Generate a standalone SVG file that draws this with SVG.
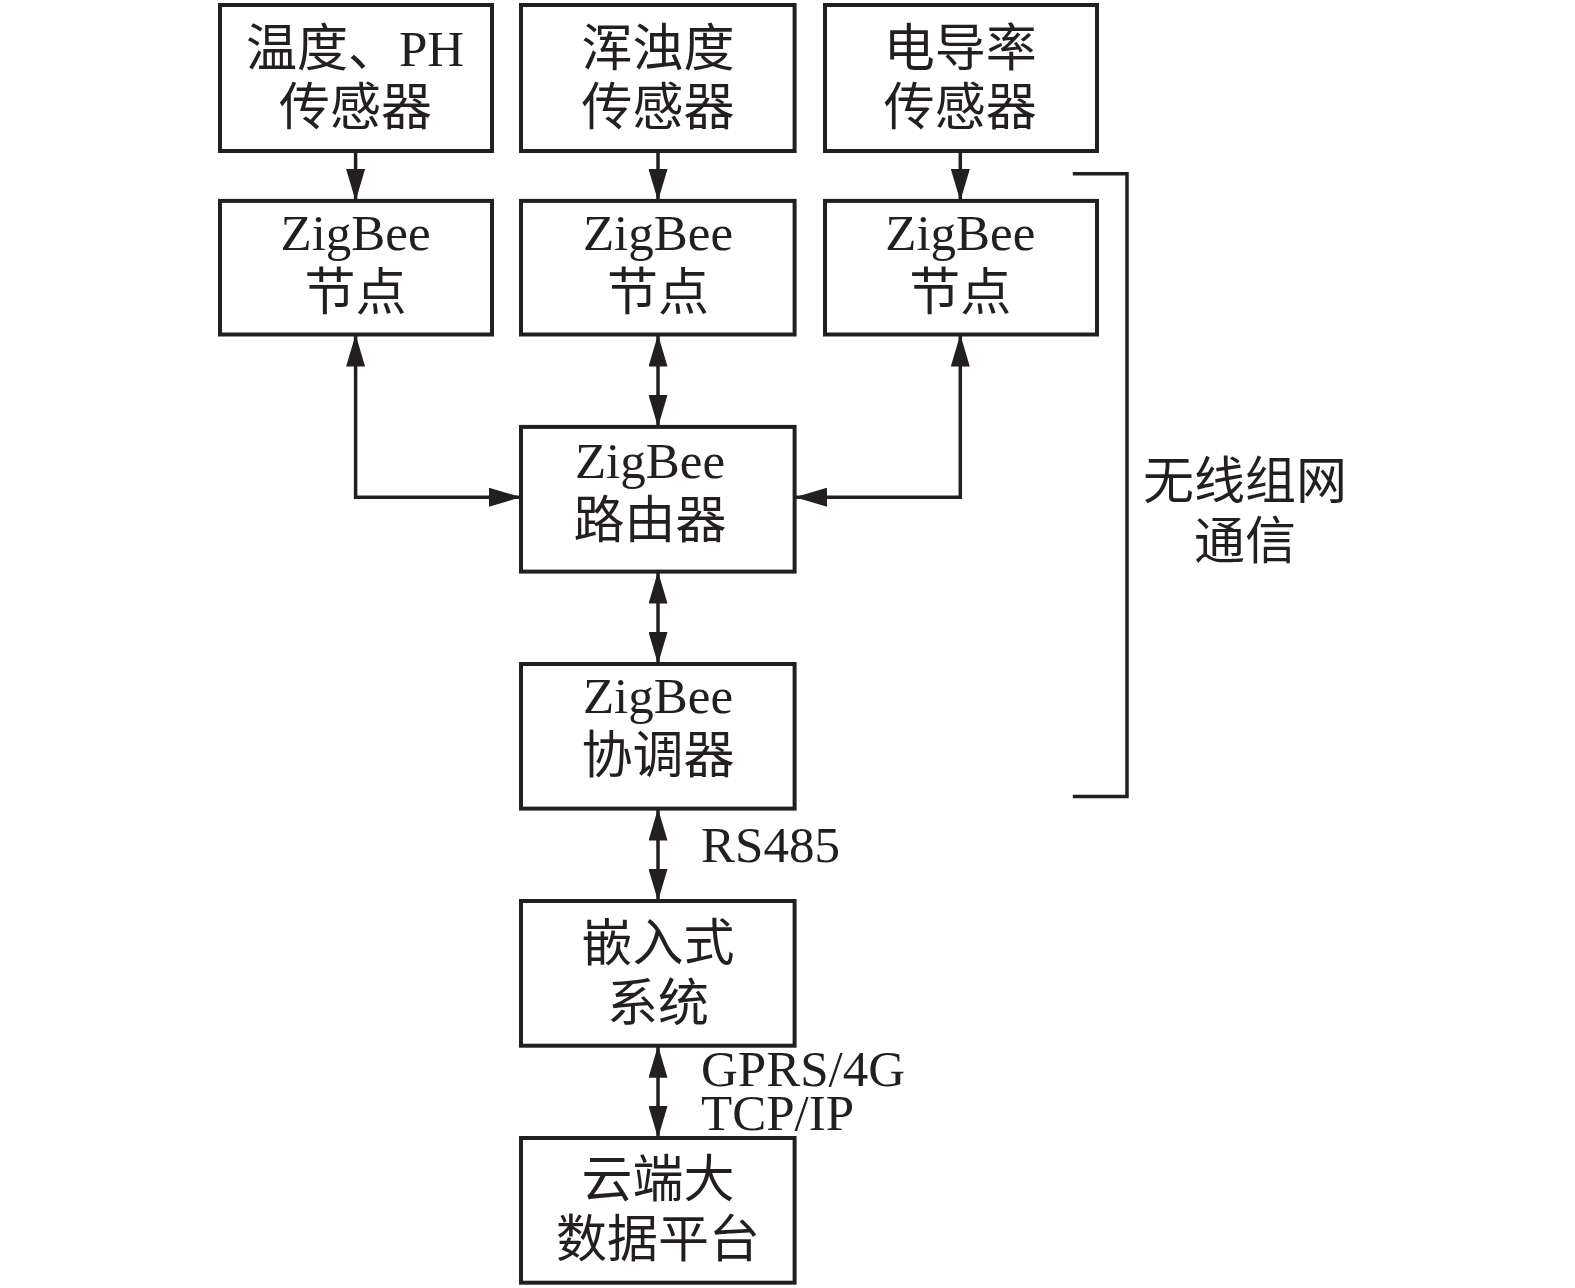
<svg xmlns="http://www.w3.org/2000/svg" width="1575" height="1288" viewBox="0 0 1575 1288">
<defs>
<style>
.box{fill:#fff;stroke:#231f20;stroke-width:4}
.t{font-family:"Liberation Serif","Noto Sans CJK SC",serif;font-size:51px;fill:#231f20;text-anchor:middle}
.tl{font-family:"Liberation Serif","Noto Sans CJK SC",serif;font-size:51px;fill:#231f20}
.c{fill:none;stroke:#231f20;stroke-width:3.5}
</style>
<marker id="ah" viewBox="0 0 32 19" markerWidth="32" markerHeight="19" refX="32" refY="9.5" orient="auto-start-reverse" markerUnits="userSpaceOnUse">
<path d="M0,0 L32,9.5 L0,19 z" fill="#231f20"/>
</marker>
</defs>
<rect width="1575" height="1288" fill="#fff"/>
<g id="connectors">
<line class="c" x1="355.6" y1="151" x2="355.6" y2="201" marker-end="url(#ah)"/>
<line class="c" x1="658" y1="151" x2="658" y2="201" marker-end="url(#ah)"/>
<line class="c" x1="960.3" y1="151" x2="960.3" y2="201" marker-end="url(#ah)"/>
<polyline class="c" points="521,497.2 355.6,497.2 355.6,334.5" marker-start="url(#ah)" marker-end="url(#ah)"/>
<polyline class="c" points="795,497.2 960.3,497.2 960.3,334.5" marker-start="url(#ah)" marker-end="url(#ah)"/>
<line class="c" x1="658" y1="334.5" x2="658" y2="427" marker-start="url(#ah)" marker-end="url(#ah)"/>
<line class="c" x1="658" y1="571.6" x2="658" y2="664" marker-start="url(#ah)" marker-end="url(#ah)"/>
<line class="c" x1="658" y1="808.6" x2="658" y2="901" marker-start="url(#ah)" marker-end="url(#ah)"/>
<line class="c" x1="658" y1="1045.7" x2="658" y2="1138" marker-start="url(#ah)" marker-end="url(#ah)"/>
<polyline fill="none" stroke="#231f20" stroke-width="3.5" points="1072.8,173.8 1127,173.8 1127,796.6 1072.8,796.6"/>
</g>
<g id="sensor1"><rect class="box" x="220" y="5" width="272" height="146"/><text class="t" x="355" y="66">温度、PH</text><text class="t" x="355.6" y="125">传感器</text></g>
<g id="sensor2"><rect class="box" x="521" y="5" width="273.6" height="146"/><text class="t" x="658" y="66">浑浊度</text><text class="t" x="658" y="125">传感器</text></g>
<g id="sensor3"><rect class="box" x="825" y="5" width="272" height="146"/><text class="t" x="960.3" y="66">电导率</text><text class="t" x="960.3" y="125">传感器</text></g>
<g id="node1"><rect class="box" x="220" y="200.9" width="272" height="133.6"/><text class="t" x="355.6" y="250">ZigBee</text><text class="t" x="355.6" y="310">节点</text></g>
<g id="node2"><rect class="box" x="521" y="200.9" width="273.6" height="133.6"/><text class="t" x="658" y="250">ZigBee</text><text class="t" x="658" y="310">节点</text></g>
<g id="node3"><rect class="box" x="825" y="200.9" width="272" height="133.6"/><text class="t" x="960.3" y="250">ZigBee</text><text class="t" x="960.3" y="310">节点</text></g>
<g id="router"><rect class="box" x="521" y="426.9" width="273.6" height="144.7"/><text class="t" x="650" y="478">ZigBee</text><text class="t" x="650" y="538">路由器</text></g>
<g id="coordinator"><rect class="box" x="521" y="664" width="273.6" height="144.6"/><text class="t" x="658" y="713">ZigBee</text><text class="t" x="658" y="773">协调器</text></g>
<g id="embedded"><rect class="box" x="521" y="901" width="273.6" height="144.7"/><text class="t" x="658" y="961">嵌入式</text><text class="t" x="658" y="1021">系统</text></g>
<g id="cloud"><rect class="box" x="521" y="1138" width="273.6" height="144.7"/><text class="t" x="658" y="1197">云端大</text><text class="t" x="658" y="1257">数据平台</text></g>
<g id="labels">
<text class="tl" x="701" y="862">RS485</text>
<text class="tl" x="701" y="1086">GPRS/4G</text>
<text class="tl" x="701" y="1130">TCP/IP</text>
<text class="t" x="1245" y="499">无线组网</text>
<text class="t" x="1245" y="559">通信</text>
</g>
</svg>
